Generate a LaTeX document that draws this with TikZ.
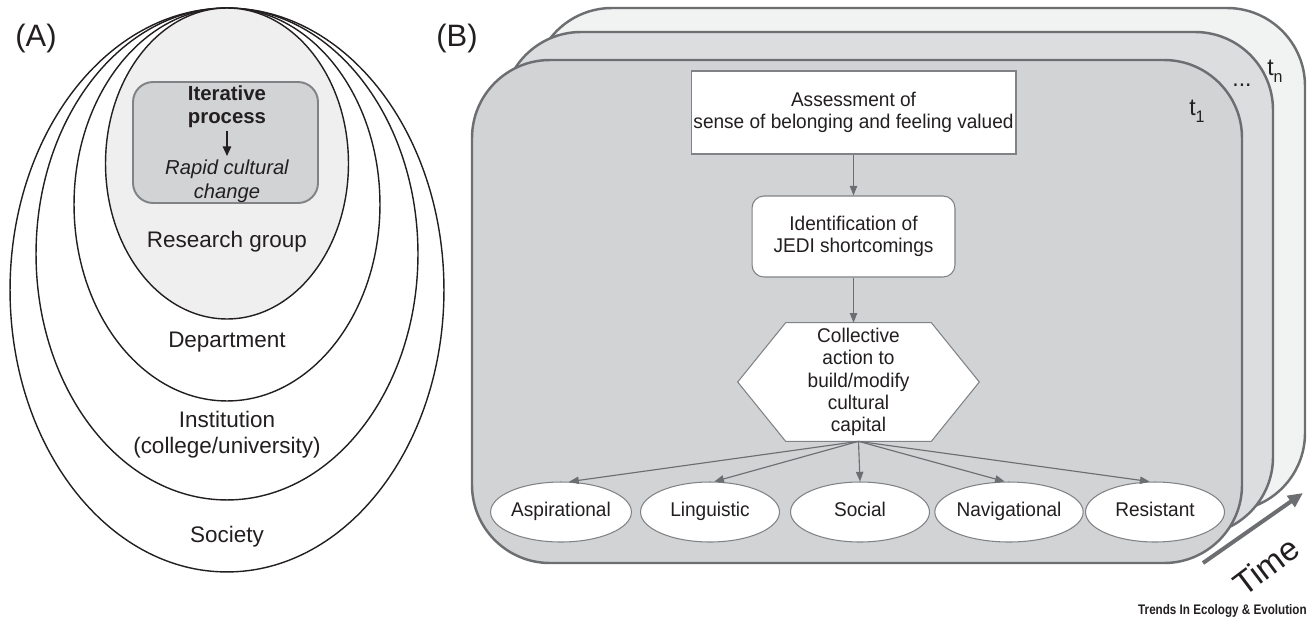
\documentclass[tikz,border=0pt]{standalone}
\usepackage{fontspec}
\setmainfont{Liberation Sans}
\newfontfamily\narrowfont[FakeStretch=0.96]{Liberation Sans}
\newfontfamily\logofont[FakeStretch=0.84]{Liberation Sans}
\usetikzlibrary{shapes.geometric,arrows.meta}
\pgfdeclarelayer{bottom}
\pgfdeclarelayer{back}
\pgfsetlayers{bottom,back,main}
\definecolor{ink}{HTML}{231F20}
\definecolor{edge}{HTML}{6D6E71}
\definecolor{thinedge}{HTML}{808285}
\definecolor{cardA}{HTML}{D1D3D4}
\definecolor{cardB}{HTML}{DCDDDE}
\definecolor{cardC}{HTML}{F1F2F2}
\definecolor{rg}{HTML}{EFEFEF}
\definecolor{boxgray}{HTML}{D1D3D4}
\newcommand{\tsubs}[1]{t\raisebox{-0.32em}{\fontsize{9.5pt}{9.5pt}\selectfont #1}}
\begin{document}
\begin{tikzpicture}[x=0.02cm,y=-0.02cm,
  ring/.style={draw=ink, line width=0.8pt},
  lblA/.style={font=\fontsize{12.8pt}{14.7pt}\selectfont, text=ink, align=center, inner sep=0},
  lblB/.style={font=\narrowfont\fontsize{11.3pt}{12.7pt}\selectfont, text=ink, align=center, inner sep=0},
  flow/.style={draw=edge, line width=0.65pt, -{Triangle[length=5.5pt,width=4.2pt]}},
  card/.style={draw=edge, line width=1.4pt, rounded corners=1.56cm},
  whitebox/.style={draw=thinedge, fill=white, line width=0.6pt},
  capital/.style={ellipse, whitebox, lblB, minimum width=2.78cm, minimum height=1.2cm,
                  text height=0.72em, text depth=0.2em},
  panel/.style={font=\fontsize{17.6pt}{18pt}\selectfont, text=ink, inner sep=0},
  tlabel/.style={font=\narrowfont\fontsize{13.6pt}{14pt}\selectfont, text=ink, inner sep=0}
]
\useasboundingbox (0,0) rectangle (1309,620);

% ---------------- Panel A ----------------
\node[panel] (A) at (36,38) {(A)};
\draw[ring, fill=white] (227,290) ellipse [x radius=4.34cm, y radius=5.64cm];
\draw[ring, fill=white] (227,254) ellipse [x radius=3.82cm, y radius=4.92cm];
\draw[ring, fill=white] (227,204.5) ellipse [x radius=3.06cm, y radius=3.93cm];
\draw[ring, fill=rg] (227,163.5) ellipse [x radius=2.43cm, y radius=3.11cm];

\node[draw=thinedge, fill=boxgray, line width=1.1pt, rounded corners=0.4cm,
      minimum width=3.7cm, minimum height=2.42cm] (iterbox) at (225.5,142.5) {};
\node[lblA, font=\bfseries\fontsize{11.6pt}{13pt}\selectfont] (iter) at (227,107) {Iterative\\process};
\node[lblA, font=\itshape\fontsize{11.5pt}{13.9pt}\selectfont] (rapid) at (227,181) {Rapid cultural\\change};
\coordinate (ia) at (227,131);
\coordinate (ib) at (227,156);
\draw[draw=ink, line width=0.85pt, -{Triangle[length=5.5pt,width=4.8pt]}] (ia) -- (ib);

\node[lblA] (rgroup) at (227,242) {Research group};
\node[lblA] (dept) at (227,342) {Department};
\node[lblA] (inst) at (227,435) {Institution\\(college/university)};
\node[lblA] (soc) at (227,537) {Society};

% ---------------- Panel B ----------------
\node[panel] (B) at (457,38) {(B)};
\begin{pgfonlayer}{bottom}
\draw[card, fill=cardC] (534,8) rectangle (1305,511);
\draw[card, fill=cardB] (503,32) rectangle (1273,535);
\draw[card, fill=cardA] (472,60) rectangle (1242,563);
\end{pgfonlayer}

\node[tlabel, anchor=base west] (tn) at (1267,75) {\tsubs{n}};
\node[tlabel, anchor=base] (dots) at (1242,86) {...};
\node[tlabel, anchor=base west] (t1) at (1189,115) {\tsubs{1}};

\node[whitebox, lblB, minimum width=6.5cm, minimum height=1.66cm] (assess) at (853.5,112.5)
  {Assessment of\\sense of belonging and feeling valued};
\node[whitebox, lblB, rounded corners=0.24cm, minimum width=4.06cm, minimum height=1.62cm] (ident) at (853.5,236.5)
  {Identification of\\JEDI shortcomings};
\node[lblB, minimum width=4.82cm, minimum height=2.36cm] (hex) at (858.5,382)
  {Collective\\action to\\build/modify\\cultural\\capital};
\begin{pgfonlayer}{back}
\draw[whitebox] ([xshift=0.96cm]hex.north west) -- ([xshift=-0.96cm]hex.north east) -- (hex.east)
  -- ([xshift=-0.96cm]hex.south east) -- ([xshift=0.96cm]hex.south west) -- (hex.west) -- cycle;
\end{pgfonlayer}

\node[capital] (asp) at (561,512) {Aspirational};
\node[capital] (lin) at (710,512) {Linguistic};
\node[capital] (soc2) at (860,512) {Social};
\node[capital] (nav) at (1009,512) {Navigational};
\node[capital] (res) at (1155,512) {Resistant};

\draw[flow] (assess.south) -- (ident.north);
\draw[flow] (ident.south) -- (ident.south |- hex.north);
\draw[flow] (hex.south) -- (asp.75);
\draw[flow] (hex.south) -- (lin.82);
\draw[flow] (hex.south) -- (soc2.north);
\draw[flow] (hex.south) -- (nav.98);
\draw[flow] (hex.south) -- (res.100);

\coordinate (ts) at (1203,563);
\coordinate (te) at (1303,493);
\draw[draw=edge, line width=2.3pt, -{Triangle[length=8.5pt,width=7.5pt]}] (ts) -- (te);
\node[rotate=37, font=\fontsize{18.8pt}{19pt}\selectfont, text=ink, inner sep=0] (time) at (1266,566) {Time};

\node[anchor=east, font=\logofont\bfseries\fontsize{7.9pt}{8pt}\selectfont, text=ink, inner sep=0] (logo) at (1307,611)
  {Trends In Ecology \& Evolution};
\end{tikzpicture}
\end{document}
